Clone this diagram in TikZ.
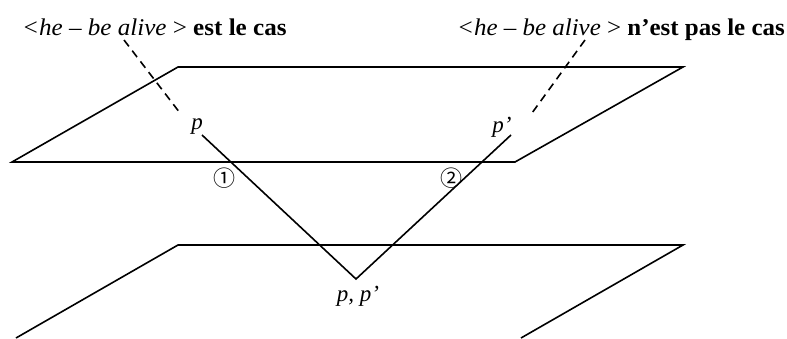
\documentclass[tikz,border=0pt]{standalone}
\usepackage{fontspec}
\usepackage{graphicx}
\setmainfont{Liberation Serif}
\newfontfamily\cjkcirc{Noto Sans CJK SC}
\begin{document}
\begin{tikzpicture}[x=1pt,y=-1pt,
  plane/.style={line width=1.6pt, line join=miter},
  ray/.style={line width=1.6pt},
  guide/.style={line width=1.6pt, dash pattern=on 8pt off 5.5pt},
  lbl/.style={inner sep=0pt, font=\fontsize{23}{26}\selectfont\itshape},
  head/.style={inner sep=0pt, anchor=base west, font=\fontsize{24}{28}\selectfont},
  num/.style={inner sep=0pt, font=\fontsize{22}{24}\selectfont\cjkcirc}]
\useasboundingbox (0,0) rectangle (787,338);
% upper plane
\draw[plane] (178,67) -- (683,67) -- (515,162) -- (12,162) -- cycle;
% lower plane
\draw[plane] (16,338) -- (178,245) -- (683,245) -- (521,338);
% rays
\coordinate (pa) at (202,135);
\coordinate (v) at (356,279);
\coordinate (pb) at (511,135);
\draw[ray] (pa) -- (v) -- (pb);
% dashed guides
\coordinate (da1) at (124,40);
\coordinate (da2) at (180,113);
\coordinate (db1) at (585,40);
\coordinate (db2) at (532,113);
\draw[guide] (da1) -- (da2);
\draw[guide] (db1) -- (db2);
% labels
\node[lbl] (lp) at (197,127) {p};
\node[lbl] (lpp) at (502,127) {p’};
\node[lbl] (lv) at (358,296) {p, p’};
\node[num] (n1) at (224,178) {①};
\node[num] (n2) at (451,178) {②};
\node[head] (t1) at (22,35) {\scalebox{1.045}[1]{\textit{<he – be alive} > \textbf{est le cas}}};
\node[head] (t2) at (457,35) {\scalebox{1.04}[1]{\textit{<he – be alive} > \textbf{n’est pas le cas}}};
\end{tikzpicture}
\end{document}
